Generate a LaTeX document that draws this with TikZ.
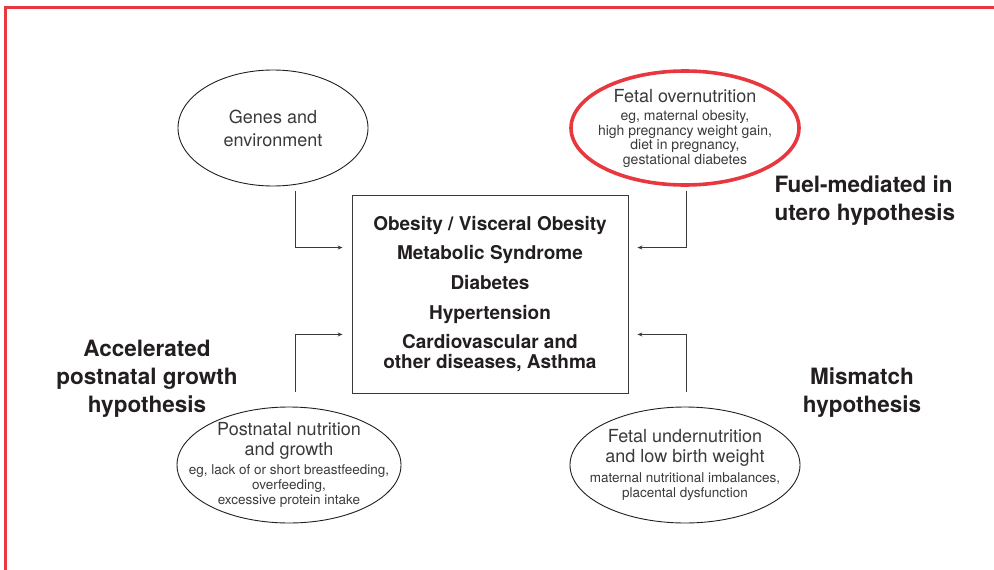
\documentclass[tikz,border=0pt]{standalone}
\usepackage{fontspec}
\setmainfont{TeX Gyre Heros}
\usepackage{xcolor}
\usetikzlibrary{shapes.geometric,arrows.meta,positioning}

\definecolor{rimred}{HTML}{E8383F}
\definecolor{inkgray}{HTML}{3A3A3A}
\definecolor{inkdark}{HTML}{231F20}

\newcommand{\mainline}{\fontsize{18}{22}\selectfont}
\newcommand{\noteline}{\fontsize{13.5}{15}\selectfont}

\begin{document}
\begin{tikzpicture}[
    x=1pt, y=-1pt,
    bubble/.style={ellipse, draw=inkdark, line width=0.9pt, inner xsep=-40pt, inner ysep=-30pt, align=center, text=inkgray, font=\mainline},
    hotbubble/.style={bubble, draw=rimred, line width=3.6pt},
    outcome/.style={rectangle, draw=inkgray, line width=0.9pt, minimum width=276pt, minimum height=198pt, align=center, text=inkdark, font=\fontsize{19}{20}\selectfont\bfseries},
    hypo/.style={align=center, text=inkdark, font=\fontsize{22.5}{28}\selectfont\bfseries},
    arrow/.style={-{Stealth[length=5pt,width=4pt]}, line width=0.9pt, draw=inkgray}
]
    \useasboundingbox (0,0) rectangle (994,570);
    \draw[rimred, line width=3pt] (5,570) -- (5,7) -- (994,7);

    % risk factors round the outcome box
    \node[bubble, minimum width=190pt, minimum height=116pt] (genes) at (273,128) {Genes and\\[1pt]environment};
    \node[hotbubble, minimum width=228pt, minimum height=114pt] (over) at (685,128)
        {Fetal overnutrition\\[-3.5pt]\fontsize{14}{15}\selectfont eg, maternal obesity,\\[-7.5pt]\fontsize{14}{15}\selectfont high pregnancy weight gain,\\[-7.5pt]\fontsize{14}{15}\selectfont diet in pregnancy,\\[-7.5pt]\fontsize{14}{15}\selectfont gestational diabetes};
    \node[outcome] (box) at (490,294)
        {Obesity / Visceral Obesity\\[9.7pt]Metabolic Syndrome\\[9.7pt]Diabetes\\[9.7pt]Hypertension\\[9.7pt]Cardiovascular and\\other diseases, Asthma};
    \node[bubble, minimum width=224pt, minimum height=116pt] (post) at (289,465)
        {Postnatal nutrition\\[-2pt]and growth\\[-3pt]\noteline eg, lack of or short breastfeeding,\\[-7pt]\noteline overfeeding,\\[-7pt]\noteline excessive protein intake};
    \node[bubble, minimum width=230pt, minimum height=116pt] (under) at (685,465)
        {Fetal undernutrition\\[-2pt]and low birth weight\\[-2pt]\noteline maternal nutritional imbalances,\\[-7pt]\noteline placental dysfunction};

    % hypotheses
    \node[hypo, align=left, anchor=west] (fuel) at (771,201) {Fuel-mediated in\\utero hypothesis};
    \node[hypo] (accel) at (147,379) {Accelerated\\postnatal growth\\hypothesis};
    \node[hypo] (mismatch) at (862,393) {Mismatch\\hypothesis};

    \draw[arrow] ([xshift=22pt,yshift=-5pt]genes.south) |- ([xshift=-9pt,yshift=-53pt]box.north west);
    \draw[arrow] ([xshift=1pt,yshift=-4pt]over.south) |- ([xshift=9pt,yshift=-53pt]box.north east);
    \draw[arrow] ([xshift=6pt,yshift=15pt]post.north) |- ([xshift=-9pt,yshift=59pt]box.south west);
    \draw[arrow] ([xshift=1pt,yshift=15pt]under.north) |- ([xshift=9pt,yshift=59pt]box.south east);

\end{tikzpicture}
\end{document}
